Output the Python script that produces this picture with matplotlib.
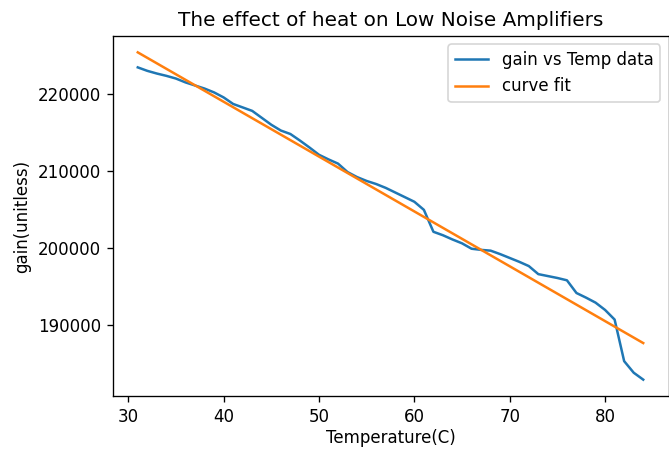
import matplotlib
matplotlib.use('Agg')
import matplotlib.pyplot as plt

# gain readings vs temperature
temps = [31, 32, 33, 34, 35, 36, 37, 38, 39, 40,
         41, 42, 43, 44, 45, 46, 47, 48, 49, 50,
         51, 52, 53, 54, 55, 56, 57, 58, 59, 60,
         61, 62, 63, 64, 65, 66, 67, 68, 69, 70,
         71, 72, 73, 74, 75, 76, 77, 78, 79, 80,
         81, 82, 83, 84]
gain = [223450, 223000, 222650, 222350, 222000, 221500, 221100, 220700, 220200, 219550,
        218700, 218250, 217800, 216900, 216000, 215250, 214800, 213950, 213050, 212100,
        211500, 210950, 209850, 209200, 208700, 208300, 207800, 207200, 206600, 206000,
        204950, 202100, 201650, 201100, 200600, 199900, 199750, 199650, 199200, 198700,
        198200, 197650, 196600, 196350, 196100, 195800, 194150, 193550, 192900, 191950,
        190700, 185300, 183800, 182900]

# linear curve fit end points
fit_temps = [31, 84]
fit_gain = [225400, 187650]

W, H, dpi = 669, 453, 120
fig = plt.figure(figsize=(W / dpi, H / dpi), dpi=dpi)
ax = fig.add_axes([112.5 / W, 1 - 396 / H, 556 / W, 360 / H])

ax.plot(temps, gain, label='gain vs Temp data')
ax.plot(fit_temps, fit_gain, label='curve fit')
ax.set_title('The effect of heat on Low Noise Amplifiers')
ax.set_xlabel('Temperature(C)', labelpad=2)
ax.set_ylabel('gain(unitless)')
ax.legend(loc='upper right')

fig.savefig('out.png', dpi=dpi)
